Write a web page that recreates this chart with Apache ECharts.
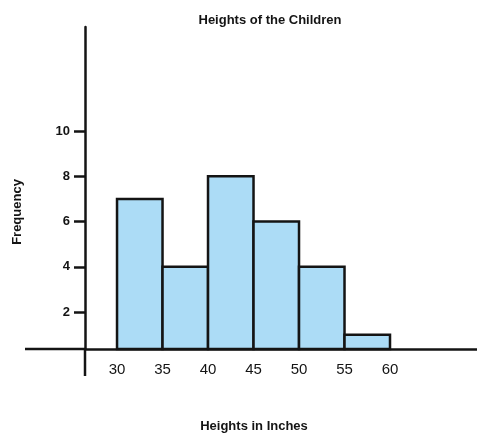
<!DOCTYPE html>
<html>
<head>
<meta charset="utf-8">
<script src="https://cdn.jsdelivr.net/npm/echarts@6/dist/echarts.min.js"></script>
<style>
    html, body { margin: 0; padding: 0; background: #fff; }
    #chart { width: 477px; height: 438px; }
</style>
</head>
<body>
<div id="chart"></div>
<script>
    // histogram bins (inches) and how many children fall in each
    var binStarts = [30, 35, 40, 45, 50, 55];
    var binEnds = [35, 40, 45, 50, 55, 60];
    var frequencies = [7, 4, 8, 6, 4, 1];
    var xTicks = [30, 35, 40, 45, 50, 55, 60];
    var yTicks = [2, 4, 6, 8, 10];

    var font = '"Liberation Sans", Arial, sans-serif';
    var ink = '#141414';
    var fill = '#acdcf6';

    var myChart = echarts.init(document.getElementById('chart'));

    var barData = binStarts.map(function (s, i) {
        return [s, binEnds[i], frequencies[i]];
    });

    var option = {
        animation: false,
        grid: {
            left: 85,
            right: 0,
            top: 27,
            bottom: 89,
            outerBoundsMode: 'none'
        },
        xAxis: {
            type: 'value',
            min: 26.48,
            max: 69.56,
            splitLine: { show: false },
            axisLine: { lineStyle: { color: ink, width: 2.5 } },
            axisTick: { show: false },
            axisLabel: {
                customValues: xTicks,
                margin: 13,
                color: ink,
                fontSize: 15,
                fontFamily: font
            }
        },
        yAxis: {
            type: 'value',
            min: 0.365,
            max: 14.6,
            splitLine: { show: false },
            axisLine: { show: true, lineStyle: { color: ink, width: 2.5 } },
            axisTick: {
                show: true,
                customValues: yTicks,
                length: 11,
                lineStyle: { color: ink, width: 2.5 }
            },
            axisLabel: {
                customValues: yTicks,
                margin: 15,
                color: ink,
                fontSize: 13,
                fontWeight: 'bold',
                fontFamily: font
            }
        },
        series: [{
            type: 'custom',
            data: barData,
            encode: { x: [0, 1], y: 2 },
            renderItem: function (params, api) {
                var topLeft = api.coord([api.value(0), api.value(2)]);
                var bottomRight = api.coord([api.value(1), 0]);
                var rect = echarts.graphic.clipRectByRect({
                    x: topLeft[0],
                    y: topLeft[1],
                    width: bottomRight[0] - topLeft[0],
                    height: bottomRight[1] - topLeft[1]
                }, {
                    x: params.coordSys.x,
                    y: params.coordSys.y,
                    width: params.coordSys.width,
                    height: params.coordSys.height
                });
                return rect && {
                    type: 'rect',
                    shape: rect,
                    style: { fill: fill, stroke: ink, lineWidth: 2.5 }
                };
            }
        }],
        graphic: [
            // axis overhangs past the crossing point
            { type: 'line', shape: { x1: 25, y1: 349, x2: 86, y2: 349 }, style: { stroke: ink, lineWidth: 2.5 } },
            { type: 'line', shape: { x1: 85, y1: 348, x2: 85, y2: 376 }, style: { stroke: ink, lineWidth: 2.5 } },
            {
                type: 'text', x: 270, y: 20,
                style: { text: 'Heights of the Children', align: 'center', verticalAlign: 'middle', fill: ink, font: 'bold 13px ' + font }
            },
            {
                type: 'text', x: 254, y: 426,
                style: { text: 'Heights in Inches', align: 'center', verticalAlign: 'middle', fill: ink, font: 'bold 13px ' + font }
            },
            {
                type: 'text', x: 17, y: 212, rotation: Math.PI / 2,
                style: { text: 'Frequency', align: 'center', verticalAlign: 'middle', fill: ink, font: 'bold 13px ' + font }
            }
        ]
    };

    myChart.setOption(option);
</script>
</body>
</html>
